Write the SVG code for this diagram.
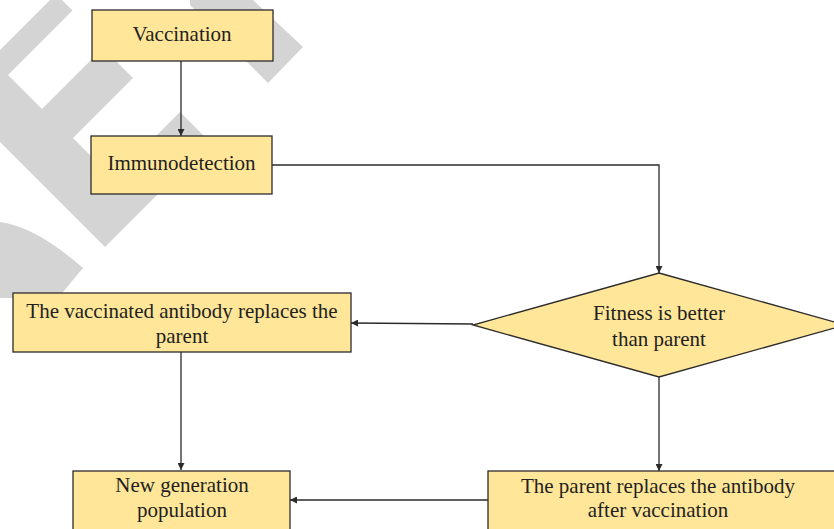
<svg xmlns="http://www.w3.org/2000/svg" width="834" height="529" viewBox="0 0 834 529">
<defs>
<style>
.wm{fill:#d4d4d4;stroke:none}
.box{fill:#ffe699;stroke:#2b2b2b;stroke-width:1.3}
.lbl{font-family:"Liberation Serif","Times New Roman",serif;font-size:21px;fill:#231f20;text-anchor:middle}
.edge{fill:none;stroke:#2b2b2b;stroke-width:1.3}
</style>
<marker id="ah" viewBox="0 0 10 10" refX="10" refY="5" markerWidth="7" markerHeight="7" markerUnits="userSpaceOnUse" orient="auto">
<path d="M0,0 L10,5 L0,10 z" fill="#2b2b2b"/>
</marker>
</defs>
<rect width="834" height="529" fill="#ffffff"/>
<g id="watermark">
<polygon class="wm" points="50,0 62,0 72.5,10.5 8,75 42,109 103,48 133,78 73,138 113.5,178.5 180,112 210,142 105,247 0,142 0,50"/>
<polygon class="wm" points="190,0 253,0 303,47 268,83 246,61 190,5"/>
<path class="wm" d="M0,222 C30,226 60,248 83,268 L58,298 L0,298 Z"/>
</g>
<g id="connectors">
<line class="edge" x1="181" y1="61" x2="181" y2="136" marker-end="url(#ah)"/>
<polyline class="edge" points="272,165 659,165 659,273" marker-end="url(#ah)"/>
<line class="edge" x1="473" y1="324" x2="351" y2="323" marker-end="url(#ah)"/>
<line class="edge" x1="659" y1="377" x2="659" y2="471" marker-end="url(#ah)"/>
<line class="edge" x1="181" y1="352" x2="181" y2="470" marker-end="url(#ah)"/>
<line class="edge" x1="488" y1="500" x2="290" y2="500" marker-end="url(#ah)"/>
</g>
<g id="vaccination">
<rect class="box" x="92" y="10" width="181" height="51"/>
<text class="lbl" x="182" y="41">Vaccination</text>
</g>
<g id="immunodetection">
<rect class="box" x="91" y="136" width="181" height="58"/>
<text class="lbl" x="181.5" y="170">Immunodetection</text>
</g>
<g id="fitness">
<polygon class="box" points="659,273 845,325 659,377 473,325"/>
<text class="lbl" x="659" y="320">Fitness is better</text>
<text class="lbl" x="659" y="346">than parent</text>
</g>
<g id="vaccinated-replaces">
<rect class="box" x="13" y="293" width="338" height="59"/>
<text class="lbl" x="182" y="318">The vaccinated antibody replaces the</text>
<text class="lbl" x="182" y="343">parent</text>
</g>
<g id="new-generation">
<rect class="box" x="73" y="471" width="217" height="70"/>
<text class="lbl" x="182" y="492">New generation</text>
<text class="lbl" x="182" y="517">population</text>
</g>
<g id="parent-replaces">
<rect class="box" x="488" y="471" width="360" height="70"/>
<text class="lbl" x="658" y="493">The parent replaces the antibody</text>
<text class="lbl" x="658" y="517">after vaccination</text>
</g>
</svg>
